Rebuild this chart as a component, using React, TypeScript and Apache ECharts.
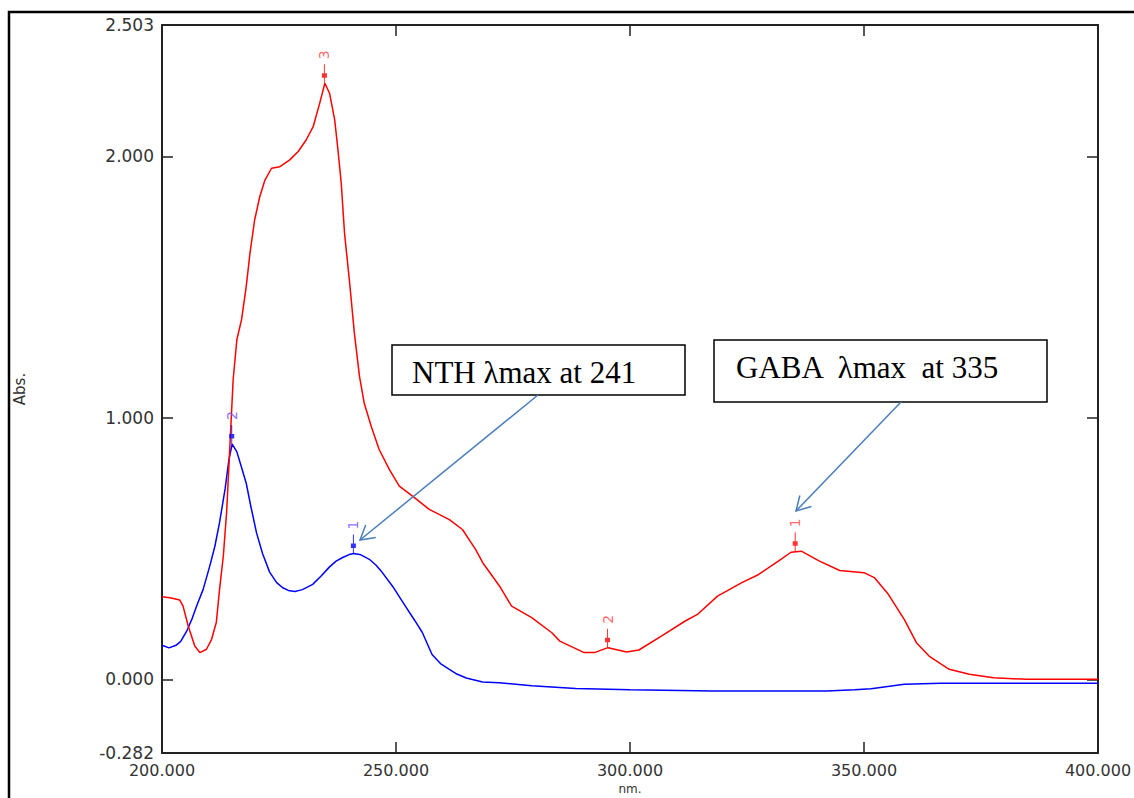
import React, { useEffect, useRef } from "react";
import * as echarts from "echarts";

// NTH (blue) spectrum: wavelength (nm) and absorbance
const nthWavelengths = [200, 201.5, 203, 204, 205.3, 206.5, 207.4, 208.8, 210.2, 211.3, 212.3, 213.5, 214.3, 215, 216, 217, 218, 219, 220.2, 221.5, 223, 224.5, 225.8, 227, 228.4, 230, 232.2, 234, 235.8, 237.2, 238.6, 240, 241, 242.5, 244.3, 245.7, 247, 249.5, 252, 254, 255.6, 257.7, 259.5, 261.4, 263, 265, 268.5, 272, 279, 288.4, 300, 317.8, 330, 342, 348, 351.5, 358.6, 366.4, 380, 400];
const nthAbs = [0.13, 0.12, 0.13, 0.145, 0.185, 0.235, 0.28, 0.344, 0.433, 0.509, 0.6, 0.73, 0.84, 0.9, 0.87, 0.81, 0.75, 0.66, 0.56, 0.48, 0.41, 0.37, 0.35, 0.34, 0.336, 0.343, 0.363, 0.395, 0.43, 0.452, 0.466, 0.477, 0.481, 0.476, 0.459, 0.437, 0.41, 0.35, 0.28, 0.225, 0.18, 0.095, 0.06, 0.038, 0.02, 0.005, -0.01, -0.013, -0.025, -0.035, -0.04, -0.045, -0.045, -0.045, -0.04, -0.036, -0.019, -0.015, -0.015, -0.015];

// GABA (red) spectrum
const gabaWavelengths = [200, 201.7, 203.8, 204.5, 205.6, 207, 208.1, 209.5, 210.6, 211.6, 212.3, 213.1, 213.8, 214.5, 215.2, 216, 217, 218, 218.8, 219.8, 220.9, 222, 223.4, 225.2, 227.3, 229.1, 230.8, 232.3, 233.7, 234.8, 235.8, 236.9, 237.6, 238.3, 239, 240.1, 241.1, 242.2, 243.2, 244.7, 246.4, 248.6, 250.7, 253.6, 257.1, 259.3, 261.4, 264.2, 267, 268.5, 272.1, 274.7, 279, 283.3, 285, 290.2, 292.4, 295.3, 299.3, 301.9, 306.7, 311.8, 314.4, 318.7, 323.9, 327.4, 331.7, 334.4, 336.6, 340.5, 344.8, 350, 352.2, 355.2, 358.6, 361.2, 363.9, 368.2, 372.5, 377.7, 384.7, 400];
const gabaAbs = [0.316, 0.312, 0.303, 0.28, 0.204, 0.127, 0.102, 0.115, 0.153, 0.217, 0.344, 0.471, 0.637, 0.89, 1.146, 1.3, 1.376, 1.503, 1.63, 1.758, 1.847, 1.91, 1.955, 1.961, 1.987, 2.019, 2.063, 2.114, 2.204, 2.28, 2.242, 2.14, 2.025, 1.898, 1.707, 1.516, 1.325, 1.159, 1.057, 0.968, 0.879, 0.802, 0.739, 0.7, 0.65, 0.63, 0.611, 0.573, 0.497, 0.447, 0.357, 0.28, 0.236, 0.178, 0.146, 0.102, 0.102, 0.121, 0.104, 0.112, 0.165, 0.223, 0.248, 0.318, 0.37, 0.4, 0.452, 0.486, 0.49, 0.452, 0.416, 0.408, 0.389, 0.325, 0.229, 0.14, 0.089, 0.038, 0.019, 0.006, 0, 0];

// Peak markers
const nthPeakNm = [214.9, 240.9];
const nthPeakAbs = [0.9, 0.481];
const nthPeakLabels = ["2", "1"];
const gabaPeakNm = [234.7, 295.2, 335.3];
const gabaPeakAbs = [2.28, 0.121, 0.49];
const gabaPeakLabels = ["3", "2", "1"];

// Axis ticks
const xLabelValues = [200, 250, 300, 350, 400];
const xTickValues = [250, 300, 350];
const yLabelValues = [-0.282, 0, 1, 2, 2.503];
const yTickValues = [0, 1, 2];

const markerPath = "path://M2,0 L3,0 L3,9 L5,9 L5,13.5 L3,13.5 L3,19 L2,19 L2,13.5 L0,13.5 L0,9 L2,9 Z";

function arrow(x1: number, y1: number, x2: number, y2: number, color: string) {
  const dx = x2 - x1, dy = y2 - y1;
  const len = Math.hypot(dx, dy);
  const bx = -dx / len, by = -dy / len;
  const a = Math.PI / 6, L = 16;
  const w1 = [x2 + L * (Math.cos(a) * bx - Math.sin(a) * by), y2 + L * (Math.sin(a) * bx + Math.cos(a) * by)];
  const w2 = [x2 + L * (Math.cos(-a) * bx - Math.sin(-a) * by), y2 + L * (Math.sin(-a) * bx + Math.cos(-a) * by)];
  return [
    { type: "line", shape: { x1, y1, x2, y2 }, style: { stroke: color, lineWidth: 1.5 }, z: 20 },
    { type: "polyline", shape: { points: [w1, [x2, y2], w2] }, style: { stroke: color, lineWidth: 1.5, fill: "none" }, z: 20 },
  ];
}

export default function App() {
  const ref = useRef<HTMLDivElement>(null);
  useEffect(() => {
    if (!ref.current) return;
    const chart = echarts.init(ref.current, null, { renderer: "svg" });
    const axisColor = "#222";
    const labelFont = { fontFamily: "DejaVu Sans", fontSize: 17, color: "#333" };
    const markerSeries = (name: string, nm: number[], abs: number[], labels: string[], color: string, labelColor: string) => ({
      name,
      type: "scatter",
      data: nm.map((x, i) => [x, abs[i], labels[i]]),
      symbol: markerPath,
      symbolSize: [5, 19],
      symbolOffset: [0, "-50%"],
      itemStyle: { color },
      z: 5,
      label: {
        show: true,
        position: "top",
        distance: 5,
        rotate: 90,
        align: "left",
        verticalAlign: "middle",
        formatter: (p: any) => p.data[2],
        fontFamily: "DejaVu Sans",
        fontSize: 14,
        color: labelColor,
      },
    });
    const option: any = {
      animation: false,
      backgroundColor: "#fff",
      grid: { left: 162, right: 36, top: 25, bottom: 45, outerBoundsMode: "none", containLabel: false },
      xAxis: [
        {
          type: "value",
          min: 200,
          max: 400,
          position: "bottom",
          name: "nm.",
          nameLocation: "middle",
          nameGap: 21,
          nameTextStyle: { fontFamily: "DejaVu Sans", fontSize: 12, color: "#333" },
          axisLine: { show: true, onZero: false, lineStyle: { color: axisColor, width: 2 } },
          axisTick: { show: true, inside: true, length: 11, customValues: xTickValues, lineStyle: { color: axisColor, width: 1.5 } },
          axisLabel: { customValues: xLabelValues, formatter: (v: number) => v.toFixed(3), margin: 9, ...labelFont, fontSize: 16 },
          splitLine: { show: false },
        },
        {
          type: "value",
          min: 200,
          max: 400,
          position: "top",
          axisLine: { show: true, onZero: false, lineStyle: { color: axisColor, width: 2 } },
          axisTick: { show: true, inside: true, length: 11, customValues: xTickValues, lineStyle: { color: axisColor, width: 1.5 } },
          axisLabel: { show: false },
          splitLine: { show: false },
        },
      ],
      yAxis: [
        {
          type: "value",
          min: -0.282,
          max: 2.503,
          position: "left",
          name: "Abs.",
          nameLocation: "middle",
          nameGap: 135,
          nameRotate: 90,
          nameTextStyle: { fontFamily: "DejaVu Sans", fontSize: 15, color: "#333" },
          axisLine: { show: true, onZero: false, lineStyle: { color: axisColor, width: 2 } },
          axisTick: { show: true, inside: true, length: 11, customValues: yTickValues, lineStyle: { color: axisColor, width: 1.5 } },
          axisLabel: { customValues: yLabelValues, formatter: (v: number) => v.toFixed(3), margin: 8, ...labelFont },
          splitLine: { show: false },
        },
        {
          type: "value",
          min: -0.282,
          max: 2.503,
          position: "right",
          axisLine: { show: true, onZero: false, lineStyle: { color: axisColor, width: 2 } },
          axisTick: { show: true, inside: true, length: 11, customValues: yTickValues, lineStyle: { color: axisColor, width: 1.5 } },
          axisLabel: { show: false },
          splitLine: { show: false },
        },
      ],
      series: [
        {
          name: "NTH",
          type: "line",
          data: nthWavelengths.map((x, i) => [x, nthAbs[i]]),
          showSymbol: false,
          lineStyle: { color: "#0000ff", width: 1.5 },
          itemStyle: { color: "#0000ff" },
        },
        {
          name: "GABA",
          type: "line",
          data: gabaWavelengths.map((x, i) => [x, gabaAbs[i]]),
          showSymbol: false,
          lineStyle: { color: "#ff0000", width: 1.5 },
          itemStyle: { color: "#ff0000" },
        },
        markerSeries("NTH peaks", nthPeakNm, nthPeakAbs, nthPeakLabels, "#0000ff", "#6a4cff"),
        markerSeries("GABA peaks", gabaPeakNm, gabaPeakAbs, gabaPeakLabels, "#ff0000", "#ff4040"),
      ],
      graphic: [
        { type: "rect", shape: { x: 9, y: 12, width: 1140, height: 800 }, style: { fill: "none", stroke: "#000", lineWidth: 2.5 }, z: 30, silent: true },
        { type: "rect", shape: { x: 392, y: 345, width: 293, height: 50 }, style: { fill: "#fff", stroke: "#000", lineWidth: 1.5 }, z: 20 },
        { type: "text", x: 412, y: 372, style: { text: "NTH λmax at 241", font: "31px 'Liberation Serif'", fill: "#000", verticalAlign: "middle" }, z: 21 },
        { type: "rect", shape: { x: 714, y: 340, width: 333, height: 62 }, style: { fill: "#fff", stroke: "#000", lineWidth: 1.5 }, z: 20 },
        { type: "text", x: 736, y: 367, style: { text: "GABA  λmax  at 335", font: "31px 'Liberation Serif'", fill: "#000", verticalAlign: "middle" }, z: 21 },
        ...arrow(538, 395, 360, 540, "#4a7ebb"),
        ...arrow(901, 402, 796, 511, "#4a7ebb"),
      ],
    };
    chart.setOption(option);
    return () => chart.dispose();
  }, []);
  return <div ref={ref} style={{ position: "absolute", left: 0, top: 0, width: 1134, height: 798 }} />;
}
